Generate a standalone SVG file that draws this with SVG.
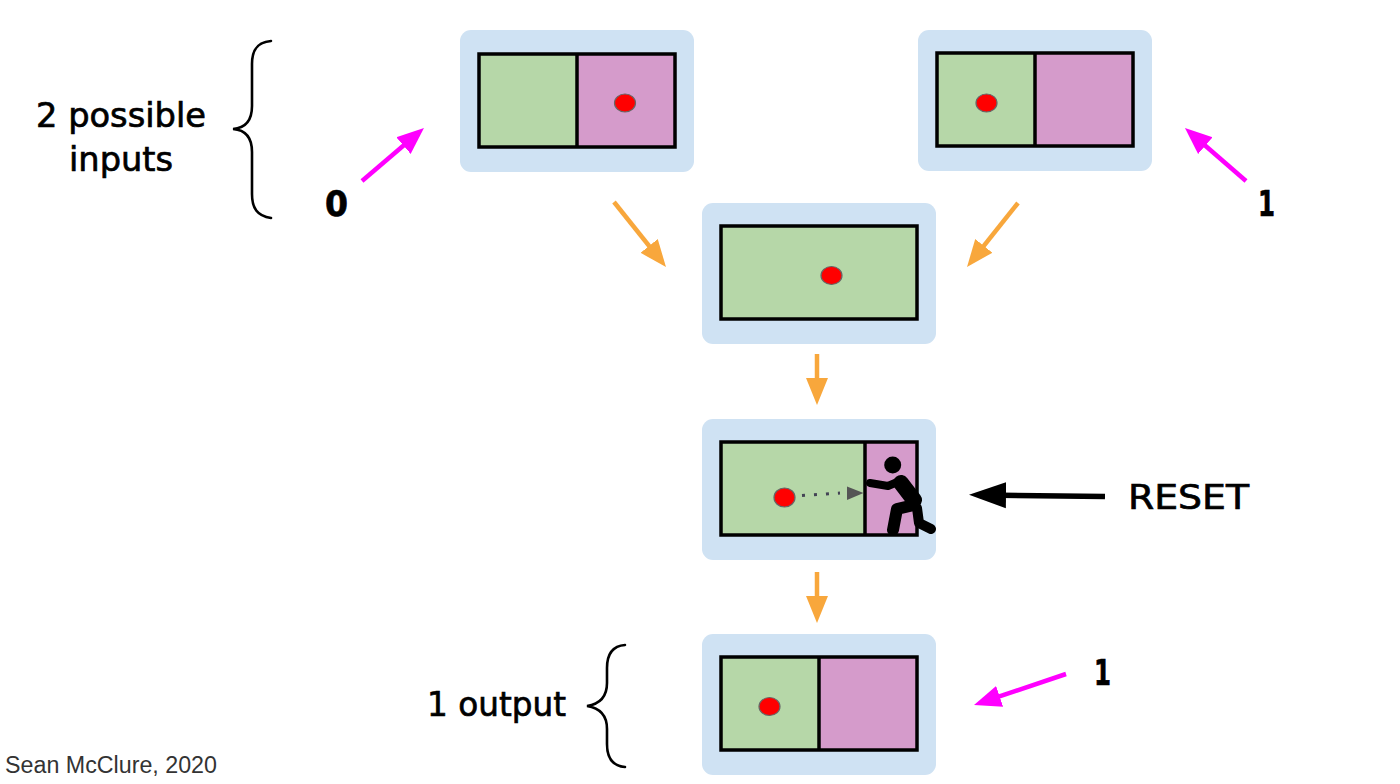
<svg xmlns="http://www.w3.org/2000/svg" width="1400" height="784" viewBox="0 0 1400 784">
<style>
.panel{fill:#cfe2f3}
.g{fill:#b6d7a8}
.p{fill:#d59bcb}
.box{fill:none;stroke:#000;stroke-width:3.500}
.div{stroke:#000;stroke-width:3.500}
.dot{fill:#f00;stroke:#666;stroke-width:1.200}
.hand{font-family:"DejaVu Sans","Noto Sans",sans-serif;fill:#000;stroke:#000;stroke-width:.7}
.brace{fill:none;stroke:#000;stroke-width:2.600;stroke-linecap:round}
.or{stroke:#f8a73c;stroke-width:4.500;fill:none}
.mg{stroke:#f0f;stroke-width:4.500;fill:none}
.fig{stroke:#000;fill:none;stroke-linecap:round;stroke-linejoin:round}
</style>
<defs>
<marker id="ao" markerUnits="userSpaceOnUse" markerWidth="30" markerHeight="26" refX="19" refY="13" orient="auto"><path d="M0 2L27 13L0 24Z" fill="#f8a73c"/></marker>
<marker id="am" markerUnits="userSpaceOnUse" markerWidth="30" markerHeight="26" refX="19" refY="13" orient="auto"><path d="M0 2L27 13L0 24Z" fill="#f0f"/></marker>
<marker id="ak" markerUnits="userSpaceOnUse" markerWidth="40" markerHeight="30" refX="22" refY="14" orient="auto"><path d="M0 1L37 14L0 27Z" fill="#000"/></marker>
</defs>
<rect width="1400" height="784" fill="#fff"/>
<g id="node-input-0">
<rect class="panel" x="460" y="30" width="234" height="142" rx="11"/>
<rect class="g" x="479" y="54" width="98" height="93"/><rect class="p" x="577" y="54" width="98" height="93"/>
<rect class="box" x="479" y="54" width="196" height="93"/><line class="div" x1="577" y1="54" x2="577" y2="147"/>
<ellipse class="dot" cx="625" cy="103" rx="10.500" ry="9"/>
</g>
<g id="node-input-1">
<rect class="panel" x="918" y="30" width="234" height="141" rx="11"/>
<rect class="g" x="937" y="53" width="98" height="93"/><rect class="p" x="1035" y="53" width="98" height="93"/>
<rect class="box" x="937" y="53" width="196" height="93"/><line class="div" x1="1035" y1="53" x2="1035" y2="146"/>
<ellipse class="dot" cx="986.500" cy="103" rx="10.500" ry="9"/>
</g>
<g id="node-merged">
<rect class="panel" x="702" y="203" width="234" height="141" rx="11"/>
<rect class="g" x="721" y="226" width="196" height="93"/>
<rect class="box" x="721" y="226" width="196" height="93"/>
<ellipse class="dot" cx="831.500" cy="275.500" rx="10.500" ry="9"/>
</g>
<g id="node-reset">
<rect class="panel" x="702" y="419" width="234" height="141" rx="11"/>
<rect class="g" x="721" y="442" width="144" height="93"/><rect class="p" x="865" y="442" width="52" height="93"/>
<rect class="box" x="721" y="442" width="196" height="93"/><line class="div" x1="865" y1="442" x2="865" y2="535"/>
<ellipse class="dot" cx="784.500" cy="497.500" rx="10.500" ry="9.500"/>
<line x1="802" y1="495.500" x2="840" y2="493" stroke="#445" stroke-width="3" stroke-dasharray="3 9"/>
<path d="M847 486.500L863.500 493L847 500Z" fill="#555"/>
<g id="pushing-figure">
<circle cx="892.700" cy="465" r="8.500" fill="#000"/>
<path class="fig" stroke-width="8" d="M870 483L888 486L902 480"/>
<path class="fig" stroke-width="16" d="M901 483L914 500"/>
<path class="fig" stroke-width="12" d="M914 505L897 509L893 530"/>
<path class="fig" stroke-width="10" d="M917 508L919 523L931 529"/>
</g>
</g>
<g id="node-output">
<rect class="panel" x="702" y="634" width="234" height="141" rx="11"/>
<rect class="g" x="721" y="657" width="98" height="93"/><rect class="p" x="819" y="657" width="98" height="93"/>
<rect class="box" x="721" y="657" width="196" height="93"/><line class="div" x1="819" y1="657" x2="819" y2="750"/>
<ellipse class="dot" cx="769.500" cy="706.500" rx="10.500" ry="9"/>
</g>
<g id="connectors">
<line class="or" x1="614" y1="202" x2="661" y2="260.800" marker-end="url(#ao)"/>
<line class="or" x1="1018" y1="203" x2="972" y2="260.700" marker-end="url(#ao)"/>
<line class="or" x1="817" y1="354" x2="817" y2="397" marker-end="url(#ao)"/>
<line class="or" x1="817" y1="572" x2="817" y2="615" marker-end="url(#ao)"/>
<line class="mg" x1="362" y1="181" x2="417.900" y2="133.200" marker-end="url(#am)"/>
<line class="mg" x1="1246" y1="181" x2="1191" y2="133.200" marker-end="url(#am)"/>
<line class="mg" x1="1066" y1="674" x2="981.600" y2="702.400" marker-end="url(#am)"/>
<line x1="1105" y1="496.500" x2="984" y2="495" stroke="#000" stroke-width="5.500" marker-end="url(#ak)"/>
</g>
<g id="brace-inputs"><path class="brace" d="M271 41C257 42 252 50 252 64V106C252 120 246 128 233 129C246 130 252 138 252 152V194C252 208 257 216 271 218"/></g>
<g id="brace-output"><path class="brace" d="M625 645C612 646 607 654 607 668V683C607 696 600 704 587 706C600 708 607 716 607 729V744C607 758 612 766 625 767"/></g>
<g id="labels">
<text class="hand" x="36" y="127" font-size="34" textLength="170" lengthAdjust="spacingAndGlyphs">2 possible</text>
<text class="hand" x="69" y="171" font-size="34" textLength="104" lengthAdjust="spacingAndGlyphs">inputs</text>
<text class="hand" x="325" y="216" font-size="35" font-weight="700" textLength="23" lengthAdjust="spacingAndGlyphs">0</text>
<text class="hand" x="1258" y="216" font-size="35" font-weight="700" textLength="17" lengthAdjust="spacingAndGlyphs">1</text>
<text class="hand" x="1094" y="685" font-size="35" font-weight="700" textLength="17" lengthAdjust="spacingAndGlyphs">1</text>
<text class="hand" x="1128" y="509" font-size="34" textLength="121" lengthAdjust="spacingAndGlyphs">RESET</text>
<text class="hand" x="427" y="716" font-size="34" textLength="139" lengthAdjust="spacingAndGlyphs">1 output</text>
<text x="5" y="773" font-family="'Liberation Sans',Arial,sans-serif" font-size="23" fill="#333" textLength="212" lengthAdjust="spacingAndGlyphs">Sean McClure, 2020</text>
</g>
</svg>
